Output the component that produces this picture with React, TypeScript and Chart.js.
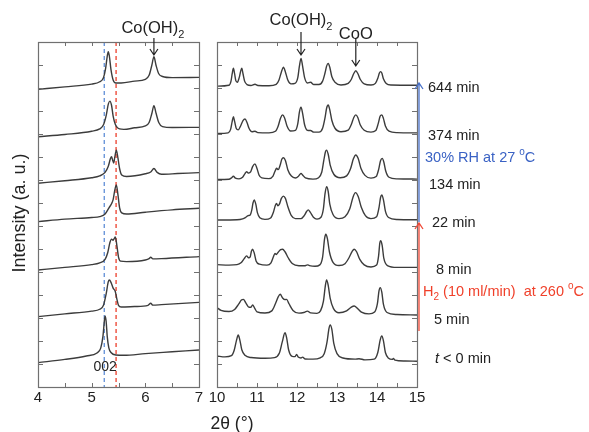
import React, { useEffect, useRef } from 'react';
import { Chart, registerables } from 'chart.js';

Chart.register(...registerables);

const FONT = '"Liberation Sans", Arial, Helvetica, sans-serif';
const W = 589;
const H = 432;

type Pt = [number, number];

// ---------- tick labels / ranges ----------
const leftRange = [4, 7];
const rightRange = [10, 15];
const yRange = [0, 15];
const blueLineX = 5.235;
const redLineX = 5.455;

// ---------- left panel (2θ 4–7), stacked traces ----------
const leftT0: Pt[] = [[4, 1.06], [4.5, 1.2], [4.9, 1.35], [5.1, 1.48], [5.17, 1.7], [5.21, 2.2], [5.24, 2.95], [5.25, 3.09], [5.27, 2.85], [5.29, 2.2], [5.32, 1.7], [5.36, 1.5], [5.45, 1.39], [5.6, 1.38], [6.0, 1.45], [6.5, 1.53], [7, 1.61]];
const leftT5: Pt[] = [[4, 3.06], [4.5, 3.18], [5.0, 3.3], [5.15, 3.38], [5.22, 3.55], [5.27, 4.05], [5.31, 4.58], [5.33, 4.65], [5.36, 4.55], [5.4, 4.3], [5.44, 4.15], [5.47, 3.82], [5.5, 3.55], [5.55, 3.48], [5.8, 3.5], [6.05, 3.55], [6.1, 3.64], [6.14, 3.56], [6.3, 3.58], [7, 3.68]];
const leftT8: Pt[] = [[4, 5.09], [4.5, 5.2], [5.0, 5.32], [5.15, 5.4], [5.25, 5.55], [5.3, 5.85], [5.34, 6.28], [5.37, 6.43], [5.4, 6.38], [5.42, 6.45], [5.44, 6.52], [5.47, 6.15], [5.5, 5.65], [5.54, 5.47], [5.65, 5.45], [6.0, 5.52], [6.07, 5.58], [6.1, 5.64], [6.14, 5.57], [6.3, 5.58], [7, 5.67]];
const leftT22: Pt[] = [[4, 7.19], [4.5, 7.3], [5.0, 7.37], [5.15, 7.41], [5.25, 7.52], [5.32, 7.78], [5.37, 7.97], [5.4, 8.15], [5.43, 8.55], [5.46, 8.78], [5.49, 8.35], [5.52, 7.8], [5.56, 7.57], [5.65, 7.52], [6.0, 7.6], [6.5, 7.7], [7, 7.77]];
const leftT134: Pt[] = [[4, 8.86], [4.5, 8.97], [5.0, 9.1], [5.15, 9.18], [5.25, 9.33], [5.31, 9.6], [5.35, 9.93], [5.37, 10.01], [5.39, 9.87], [5.41, 9.74], [5.43, 9.98], [5.46, 10.3], [5.49, 9.95], [5.52, 9.5], [5.56, 9.22], [5.65, 9.15], [6.0, 9.27], [6.1, 9.35], [6.16, 9.5], [6.22, 9.33], [6.3, 9.25], [6.6, 9.28], [7, 9.32]];
const leftT374: Pt[] = [[4, 10.88], [4.5, 10.98], [5.0, 11.12], [5.15, 11.22], [5.22, 11.4], [5.27, 11.8], [5.31, 12.3], [5.34, 12.43], [5.37, 12.25], [5.4, 11.78], [5.44, 11.42], [5.47, 11.3], [5.52, 11.22], [5.6, 11.2], [5.8, 11.27], [6.0, 11.35], [6.07, 11.5], [6.12, 11.88], [6.16, 12.23], [6.2, 11.9], [6.25, 11.5], [6.32, 11.32], [6.5, 11.28], [7, 11.29]];
const leftT644: Pt[] = [[4, 12.94], [4.5, 13.05], [5.0, 13.17], [5.15, 13.27], [5.22, 13.45], [5.26, 13.85], [5.29, 14.38], [5.31, 14.58], [5.33, 14.38], [5.36, 13.8], [5.4, 13.35], [5.45, 13.22], [5.55, 13.22], [5.8, 13.3], [6.0, 13.38], [6.07, 13.55], [6.12, 13.98], [6.16, 14.36], [6.2, 13.98], [6.25, 13.62], [6.32, 13.5], [6.5, 13.45], [7, 13.46]];

// ---------- right panel (2θ 10–15), stacked traces ----------
const rightT0: Pt[] = [[10, 1.35], [10.2, 1.31], [10.36, 1.36], [10.43, 1.6], [10.49, 2.05], [10.53, 2.26], [10.57, 2.05], [10.62, 1.62], [10.7, 1.38], [10.85, 1.28], [11.2, 1.25], [11.44, 1.28], [11.56, 1.48], [11.63, 1.95], [11.7, 2.36], [11.74, 2.15], [11.79, 1.62], [11.88, 1.33], [11.95, 1.32], [11.99, 1.42], [12.03, 1.3], [12.1, 1.26], [12.14, 1.3], [12.2, 1.22], [12.4, 1.21], [12.58, 1.27], [12.68, 1.45], [12.75, 1.95], [12.8, 2.55], [12.83, 2.7], [12.87, 2.52], [12.92, 1.9], [13.0, 1.45], [13.15, 1.26], [13.45, 1.21], [13.55, 1.23], [13.7, 1.18], [13.93, 1.21], [14.02, 1.5], [14.08, 2.05], [14.12, 2.22], [14.16, 2.02], [14.21, 1.5], [14.29, 1.25], [14.38, 1.2], [14.41, 1.24], [14.45, 1.17], [14.7, 1.13], [15, 1.12]];
const rightT5: Pt[] = [[10, 3.45], [10.1, 3.33], [10.3, 3.28], [10.44, 3.37], [10.54, 3.6], [10.61, 3.78], [10.66, 3.81], [10.72, 3.66], [10.8, 3.47], [10.85, 3.47], [10.89, 3.57], [10.94, 3.43], [11.0, 3.27], [11.2, 3.22], [11.37, 3.31], [11.46, 3.62], [11.53, 3.92], [11.58, 4.03], [11.64, 3.87], [11.7, 3.8], [11.74, 3.81], [11.8, 3.62], [11.9, 3.33], [12.05, 3.21], [12.17, 3.24], [12.26, 3.3], [12.34, 3.22], [12.5, 3.2], [12.59, 3.32], [12.66, 3.72], [12.71, 4.42], [12.74, 4.65], [12.78, 4.42], [12.83, 3.85], [12.91, 3.42], [13.05, 3.23], [13.24, 3.31], [13.35, 3.46], [13.43, 3.52], [13.51, 3.42], [13.61, 3.26], [13.8, 3.18], [13.94, 3.26], [14.01, 3.62], [14.05, 4.18], [14.08, 4.32], [14.12, 4.12], [14.16, 3.6], [14.25, 3.24], [14.5, 3.15], [15, 3.13]];
const rightT8: Pt[] = [[10, 5.32], [10.3, 5.3], [10.5, 5.32], [10.6, 5.4], [10.68, 5.58], [10.74, 5.7], [10.79, 5.62], [10.83, 5.66], [10.86, 5.9], [10.89, 5.99], [10.93, 5.83], [10.98, 5.47], [11.06, 5.34], [11.25, 5.3], [11.35, 5.4], [11.41, 5.66], [11.45, 5.81], [11.48, 5.76], [11.53, 5.86], [11.59, 5.97], [11.64, 5.99], [11.7, 5.88], [11.78, 5.62], [11.88, 5.37], [12.05, 5.27], [12.19, 5.27], [12.26, 5.31], [12.31, 5.28], [12.45, 5.25], [12.57, 5.31], [12.64, 5.65], [12.69, 6.45], [12.72, 6.64], [12.76, 6.45], [12.81, 5.88], [12.9, 5.42], [13.05, 5.28], [13.2, 5.36], [13.3, 5.62], [13.38, 5.9], [13.43, 5.99], [13.49, 5.88], [13.57, 5.55], [13.68, 5.31], [13.85, 5.22], [13.99, 5.3], [14.04, 5.7], [14.07, 6.26], [14.09, 6.36], [14.13, 6.15], [14.17, 5.6], [14.26, 5.28], [14.5, 5.2], [15, 5.2]];
const rightT22: Pt[] = [[10, 7.26], [10.5, 7.27], [10.64, 7.31], [10.72, 7.38], [10.78, 7.45], [10.83, 7.48], [10.87, 7.7], [10.9, 8.0], [10.93, 8.13], [10.97, 7.95], [11.01, 7.58], [11.07, 7.36], [11.2, 7.29], [11.34, 7.35], [11.41, 7.6], [11.46, 7.9], [11.49, 7.98], [11.52, 7.88], [11.56, 7.95], [11.61, 8.2], [11.66, 8.3], [11.71, 8.2], [11.77, 7.85], [11.86, 7.45], [11.96, 7.32], [12.1, 7.32], [12.18, 7.45], [12.24, 7.63], [12.28, 7.7], [12.33, 7.6], [12.41, 7.38], [12.5, 7.3], [12.6, 7.38], [12.66, 7.75], [12.7, 8.4], [12.74, 8.71], [12.78, 8.5], [12.82, 7.95], [12.9, 7.5], [13.05, 7.32], [13.2, 7.4], [13.32, 7.75], [13.4, 8.25], [13.46, 8.45], [13.53, 8.28], [13.61, 7.8], [13.71, 7.45], [13.85, 7.32], [13.99, 7.4], [14.05, 7.8], [14.09, 8.25], [14.12, 8.35], [14.16, 8.15], [14.21, 7.65], [14.29, 7.37], [14.5, 7.28], [15, 7.27]];
const rightT134: Pt[] = [[10, 9.02], [10.3, 9.03], [10.36, 9.09], [10.41, 9.16], [10.46, 9.08], [10.55, 9.05], [10.64, 9.12], [10.7, 9.28], [10.74, 9.36], [10.79, 9.3], [10.84, 9.35], [10.89, 9.58], [10.95, 9.7], [11.0, 9.5], [11.05, 9.22], [11.12, 9.09], [11.3, 9.06], [11.4, 9.17], [11.45, 9.38], [11.49, 9.51], [11.53, 9.45], [11.58, 9.65], [11.62, 9.9], [11.66, 9.97], [11.71, 9.85], [11.77, 9.45], [11.86, 9.17], [11.96, 9.09], [12.03, 9.15], [12.07, 9.24], [12.1, 9.29], [12.14, 9.22], [12.21, 9.09], [12.4, 9.04], [12.54, 9.1], [12.62, 9.35], [12.67, 9.85], [12.71, 10.22], [12.74, 10.3], [12.78, 10.12], [12.83, 9.65], [12.92, 9.25], [13.08, 9.1], [13.24, 9.18], [13.34, 9.5], [13.41, 9.92], [13.47, 10.09], [13.53, 9.93], [13.6, 9.5], [13.7, 9.2], [13.85, 9.08], [13.98, 9.15], [14.04, 9.45], [14.09, 9.85], [14.13, 9.94], [14.17, 9.78], [14.22, 9.38], [14.3, 9.12], [14.5, 9.05], [15, 9.04]];
const rightT374: Pt[] = [[10, 11.02], [10.28, 11.05], [10.34, 11.2], [10.38, 11.55], [10.41, 11.75], [10.44, 11.55], [10.48, 11.25], [10.53, 11.18], [10.59, 11.35], [10.65, 11.58], [10.7, 11.65], [10.75, 11.5], [10.8, 11.25], [10.87, 11.1], [10.95, 11.12], [11.02, 11.06], [11.3, 11.05], [11.46, 11.12], [11.53, 11.35], [11.59, 11.7], [11.64, 11.83], [11.69, 11.7], [11.75, 11.35], [11.84, 11.13], [11.96, 11.16], [12.02, 11.45], [12.06, 11.95], [12.1, 12.16], [12.14, 11.9], [12.19, 11.4], [12.26, 11.16], [12.34, 11.15], [12.42, 11.08], [12.55, 11.08], [12.64, 11.25], [12.7, 11.7], [12.74, 12.12], [12.78, 12.26], [12.82, 12.05], [12.87, 11.6], [12.95, 11.25], [13.1, 11.1], [13.28, 11.17], [13.36, 11.42], [13.42, 11.72], [13.47, 11.83], [13.52, 11.72], [13.58, 11.4], [13.68, 11.16], [13.85, 11.08], [13.97, 11.15], [14.03, 11.45], [14.08, 11.78], [14.12, 11.83], [14.16, 11.68], [14.21, 11.35], [14.3, 11.12], [14.5, 11.06], [15, 11.05]];
const rightT644: Pt[] = [[10, 13.08], [10.3, 13.12], [10.35, 13.3], [10.38, 13.62], [10.41, 13.86], [10.44, 13.62], [10.47, 13.32], [10.51, 13.25], [10.555, 13.45], [10.59, 13.72], [10.62, 13.86], [10.65, 13.62], [10.69, 13.3], [10.75, 13.15], [10.85, 13.11], [10.95, 13.16], [11.02, 13.11], [11.3, 13.1], [11.48, 13.16], [11.55, 13.35], [11.61, 13.7], [11.66, 13.9], [11.71, 13.7], [11.77, 13.35], [11.85, 13.18], [11.95, 13.2], [12.02, 13.45], [12.06, 13.95], [12.1, 14.29], [12.14, 13.95], [12.19, 13.45], [12.26, 13.22], [12.34, 13.25], [12.42, 13.15], [12.55, 13.15], [12.64, 13.3], [12.7, 13.65], [12.74, 13.95], [12.78, 14.07], [12.82, 13.9], [12.87, 13.5], [12.95, 13.25], [13.1, 13.13], [13.28, 13.2], [13.36, 13.38], [13.42, 13.63], [13.47, 13.75], [13.52, 13.63], [13.58, 13.38], [13.68, 13.18], [13.85, 13.13], [13.96, 13.2], [14.02, 13.42], [14.06, 13.65], [14.09, 13.71], [14.12, 13.65], [14.16, 13.4], [14.23, 13.2], [14.35, 13.13], [15, 13.12]];

const leftSeries = [leftT0, leftT5, leftT8, leftT22, leftT134, leftT374, leftT644];
const rightSeries = [rightT0, rightT5, rightT8, rightT22, rightT134, rightT374, rightT644];

// ---------- text ----------
const timeLabels = ['t < 0 min', '5 min', '8 min', '22 min', '134 min', '374 min', '644 min'];

type Part = { t: string; sub?: boolean; sup?: boolean; italic?: boolean };

function drawRich(ctx: CanvasRenderingContext2D, parts: Part[], x: number, y: number, size: number, color: string, align: 'left' | 'center' = 'left') {
  const fontOf = (p: Part) => `${p.italic ? 'italic ' : ''}${p.sub || p.sup ? Math.round(size * 0.66) : size}px ${FONT}`;
  let total = 0;
  for (const p of parts) { ctx.font = fontOf(p); total += ctx.measureText(p.t).width; }
  let cx = align === 'center' ? x - total / 2 : x;
  ctx.fillStyle = color;
  ctx.textAlign = 'left';
  ctx.textBaseline = 'alphabetic';
  for (const p of parts) {
    ctx.font = fontOf(p);
    const dy = p.sub ? size * 0.28 : p.sup ? -size * 0.45 : 0;
    ctx.fillText(p.t, cx, y + dy);
    cx += ctx.measureText(p.t).width;
  }
}

function arrow(ctx: CanvasRenderingContext2D, x: number, y1: number, y2: number, color: string, width = 1.2) {
  const dir = y2 > y1 ? 1 : -1;
  ctx.save();
  ctx.strokeStyle = color;
  ctx.lineWidth = width;
  ctx.beginPath();
  ctx.moveTo(x, y1);
  ctx.lineTo(x, y2);
  ctx.moveTo(x - 4, y2 - dir * 6);
  ctx.lineTo(x, y2);
  ctx.lineTo(x + 4, y2 - dir * 6);
  ctx.stroke();
  ctx.restore();
}

function frameAndTicks(chart: any, xStep: number) {
  const { ctx, chartArea, scales } = chart;
  const { left, right, top, bottom } = chartArea;
  const xs = scales.x;
  const ys = scales.y;
  ctx.save();
  ctx.strokeStyle = '#707070';
  ctx.lineWidth = 1;
  ctx.beginPath();
  for (let v = xs.min; v <= xs.max + 1e-9; v += xStep) {
    const px = Math.round(xs.getPixelForValue(v)) + 0.5;
    ctx.moveTo(px, bottom);
    ctx.lineTo(px, bottom - 4);
    ctx.moveTo(px, top);
    ctx.lineTo(px, top + 4);
  }
  for (let v = ys.min; v <= ys.max + 1e-9; v += 1) {
    const py = Math.round(ys.getPixelForValue(v)) + 0.5;
    ctx.moveTo(left, py);
    ctx.lineTo(left + 5, py);
    ctx.moveTo(right, py);
    ctx.lineTo(right - 5, py);
  }
  ctx.stroke();
  ctx.lineWidth = 1.2;
  ctx.strokeRect(Math.round(left) + 0.5, Math.round(top) + 0.5, Math.round(right - left), Math.round(bottom - top));
  ctx.restore();
}

const leftPlugin = {
  id: 'leftDeco',
  beforeDatasetsDraw(chart: any) {
    const { ctx, chartArea, scales } = chart;
    ctx.save();
    ctx.lineWidth = 1.4;
    ctx.setLineDash([4, 3]);
    const lines: [number, string][] = [[blueLineX, '#6b96da'], [redLineX, '#ee4c3a']];
    for (const [v, c] of lines) {
      const px = scales.x.getPixelForValue(v);
      ctx.strokeStyle = c;
      ctx.beginPath();
      ctx.moveTo(px, chartArea.top);
      ctx.lineTo(px, chartArea.bottom);
      ctx.stroke();
    }
    ctx.restore();
  },
  afterDraw(chart: any) {
    const { ctx, scales } = chart;
    frameAndTicks(chart, 0.5);
    drawRich(ctx, [{ t: '002' }], scales.x.getPixelForValue(5.25), 371, 14, '#222', 'center');
    const ax = scales.x.getPixelForValue(6.16);
    drawRich(ctx, [{ t: 'Co(OH)' }, { t: '2', sub: true }], ax - 1, 33, 16.5, '#222', 'center');
    arrow(ctx, ax, 38, 55, '#222');
    ctx.save();
    ctx.translate(20, 213);
    ctx.rotate(-Math.PI / 2);
    ctx.font = `18px ${FONT}`;
    ctx.fillStyle = '#222';
    ctx.textAlign = 'center';
    ctx.textBaseline = 'middle';
    ctx.fillText('Intensity (a. u.)', 0, 0);
    ctx.restore();
  },
};

const rightPlugin = {
  id: 'rightDeco',
  afterDraw(chart: any) {
    const { ctx, scales, chartArea } = chart;
    frameAndTicks(chart, 0.5);
    const cx = scales.x.getPixelForValue(12.1);
    drawRich(ctx, [{ t: 'Co(OH)' }, { t: '2', sub: true }], cx, 25, 16.5, '#222', 'center');
    arrow(ctx, cx, 32, 55, '#222');
    const ox = scales.x.getPixelForValue(13.47);
    drawRich(ctx, [{ t: 'CoO' }], ox, 39, 16.5, '#222', 'center');
    arrow(ctx, ox, 38, 66, '#222');

    const ax = chartArea.right + 2;
    arrow(ctx, ax, 222, 83, '#4a72c8', 1.3);
    arrow(ctx, ax, 331, 223, '#f04a38', 1.3);

    const s = 14.5;
    const rows: [number, number][] = [[358, 435], [319, 434], [269, 436], [222, 432], [184, 429], [135, 428], [87, 428]];
    rows.forEach(([cy, lx], i) => {
      const lbl = timeLabels[i];
      if (i === 0) {
        drawRich(ctx, [{ t: 't', italic: true }, { t: lbl.slice(1) }], lx, cy + 5, s, '#222');
      } else {
        drawRich(ctx, [{ t: lbl }], lx, cy + 5, s, '#222');
      }
    });
    drawRich(ctx, [{ t: '30% RH at 27 ' }, { t: 'o', sup: true }, { t: 'C' }], 425, 162, s, '#3a62c4');
    drawRich(ctx, [{ t: 'H' }, { t: '2', sub: true }, { t: ' (10 ml/min)  at 260 ' }, { t: 'o', sup: true }, { t: 'C' }], 423, 296, s, '#f0402a');

    drawRich(ctx, [{ t: '2θ (°)' }], 232, 429, 17.5, '#222', 'center');
  },
};

function makeChart(canvas: HTMLCanvasElement, series: Pt[][], range: number[], padLeft: number, padRight: number, plugin: any) {
  return new Chart(canvas, {
    type: 'line',
    data: {
      datasets: series.map((s) => ({
        data: s.map(([x, y]) => ({ x, y })),
        borderColor: '#3c3c3c',
        borderWidth: 1.4,
        pointRadius: 0,
        fill: false,
        cubicInterpolationMode: 'monotone' as const,
      })),
    },
    options: {
      responsive: false,
      maintainAspectRatio: false,
      animation: false,
      devicePixelRatio: 1,
      events: [],
      layout: { padding: { left: padLeft, right: padRight, top: 42, bottom: 0 } },
      plugins: { legend: { display: false }, tooltip: { enabled: false } },
      scales: {
        x: {
          type: 'linear',
          min: range[0],
          max: range[1],
          afterFit: (sc: any) => { sc.height = 45; },
          grid: { display: false, drawTicks: false },
          border: { display: false },
          ticks: { stepSize: 1, padding: 2, color: '#222', font: { family: FONT, size: 15 }, maxRotation: 0, autoSkip: false },
        },
        y: { type: 'linear', min: yRange[0], max: yRange[1], display: false },
      },
    },
    plugins: [plugin],
  } as any);
}

export default function App() {
  const leftRef = useRef<HTMLCanvasElement>(null);
  const rightRef = useRef<HTMLCanvasElement>(null);
  useEffect(() => {
    const c1 = makeChart(leftRef.current!, leftSeries, leftRange, 38, W - 199, leftPlugin);
    const c2 = makeChart(rightRef.current!, rightSeries, rightRange, 217, W - 417, rightPlugin);
    return () => { c1.destroy(); c2.destroy(); };
  }, []);
  const cs: React.CSSProperties = { position: 'absolute', left: 0, top: 0, width: W, height: H, display: 'block' };
  return (
    <div style={{ position: 'fixed', left: 0, top: 0, width: W, height: H, background: '#fff' }}>
      <canvas ref={leftRef} width={W} height={H} style={cs} />
      <canvas ref={rightRef} width={W} height={H} style={cs} />
    </div>
  );
}
